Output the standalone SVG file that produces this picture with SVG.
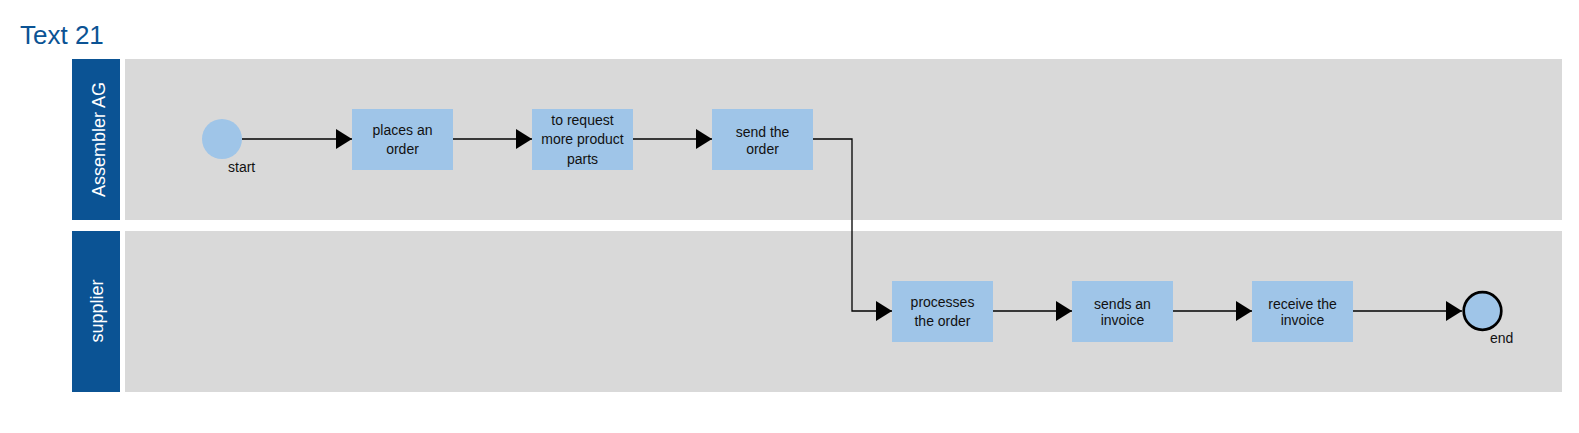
<svg xmlns="http://www.w3.org/2000/svg" width="1579" height="433" viewBox="0 0 1579 433">
<style>
.lanehead{fill:#0b5394}
.lanebody{fill:#d9d9d9}
.task{fill:#9fc5e8}
.lbl{font-family:"Liberation Sans",Arial,sans-serif;font-size:14px;fill:#111;text-anchor:middle}
.ev{font-family:"Liberation Sans",Arial,sans-serif;font-size:14px;fill:#111}
.hd{font-family:"Liberation Sans",Arial,sans-serif;font-size:18px;fill:#fff;text-anchor:middle}
.title{font-family:"Liberation Sans",Arial,sans-serif;font-size:26px;fill:#0b5394}
.conn{fill:none;stroke:#000;stroke-width:1.3;marker-end:url(#arr)}
</style>
<defs>
<marker id="arr" markerUnits="userSpaceOnUse" markerWidth="16" markerHeight="20" refX="16" refY="10" orient="auto" viewBox="0 0 16 20">
<path d="M0,0 L16,10 L0,20 z" fill="#000"/>
</marker>
</defs>
<rect width="1579" height="433" fill="#fff"/>
<text class="title" x="20" y="44">Text 21</text>
<g id="lane-assembler">
<rect class="lanehead" x="72" y="59" width="48" height="161"/>
<rect class="lanebody" x="125" y="59" width="1437" height="161"/>
<text class="hd" transform="translate(105,139.5) rotate(-90)">Assembler AG</text>
</g>
<g id="lane-supplier">
<rect class="lanehead" x="72" y="231" width="48" height="161"/>
<rect class="lanebody" x="125" y="231" width="1437" height="161"/>
<text class="hd" transform="translate(103,311) rotate(-90)">supplier</text>
</g>
<g id="connectors">
<path class="conn" d="M242,139 H352"/>
<path class="conn" d="M453,139 H532"/>
<path class="conn" d="M633,139 H712"/>
<path class="conn" d="M813,139 H852 V311 H892"/>
<path class="conn" d="M993,311 H1072"/>
<path class="conn" d="M1173,311 H1252"/>
<path class="conn" d="M1353,311 H1462"/>
</g>
<g id="start">
<circle cx="222" cy="139" r="20" fill="#9fc5e8"/>
<text class="ev" x="228" y="171.5">start</text>
</g>
<g id="task-places-order">
<rect class="task" x="352" y="109" width="101" height="61"/>
<text class="lbl" x="402.5" y="134.5">places an</text>
<text class="lbl" x="402.5" y="153.5">order</text>
</g>
<g id="task-request-parts">
<rect class="task" x="532" y="109" width="101" height="61"/>
<text class="lbl" x="582.5" y="124.5">to request</text>
<text class="lbl" x="582.5" y="144">more product</text>
<text class="lbl" x="582.5" y="163.5">parts</text>
</g>
<g id="task-send-order">
<rect class="task" x="712" y="109" width="101" height="61"/>
<text class="lbl" x="762.5" y="137">send the</text>
<text class="lbl" x="762.5" y="153.5">order</text>
</g>
<g id="task-processes-order">
<rect class="task" x="892" y="281" width="101" height="61"/>
<text class="lbl" x="942.5" y="306.5">processes</text>
<text class="lbl" x="942.5" y="325.5">the order</text>
</g>
<g id="task-sends-invoice">
<rect class="task" x="1072" y="281" width="101" height="61"/>
<text class="lbl" x="1122.5" y="308.5">sends an</text>
<text class="lbl" x="1122.5" y="325">invoice</text>
</g>
<g id="task-receive-invoice">
<rect class="task" x="1252" y="281" width="101" height="61"/>
<text class="lbl" x="1302.5" y="308.5">receive the</text>
<text class="lbl" x="1302.5" y="325">invoice</text>
</g>
<g id="end">
<circle cx="1482.5" cy="311" r="18.8" fill="#9fc5e8" stroke="#000" stroke-width="2.7"/>
<text class="ev" x="1490" y="343">end</text>
</g>
</svg>
